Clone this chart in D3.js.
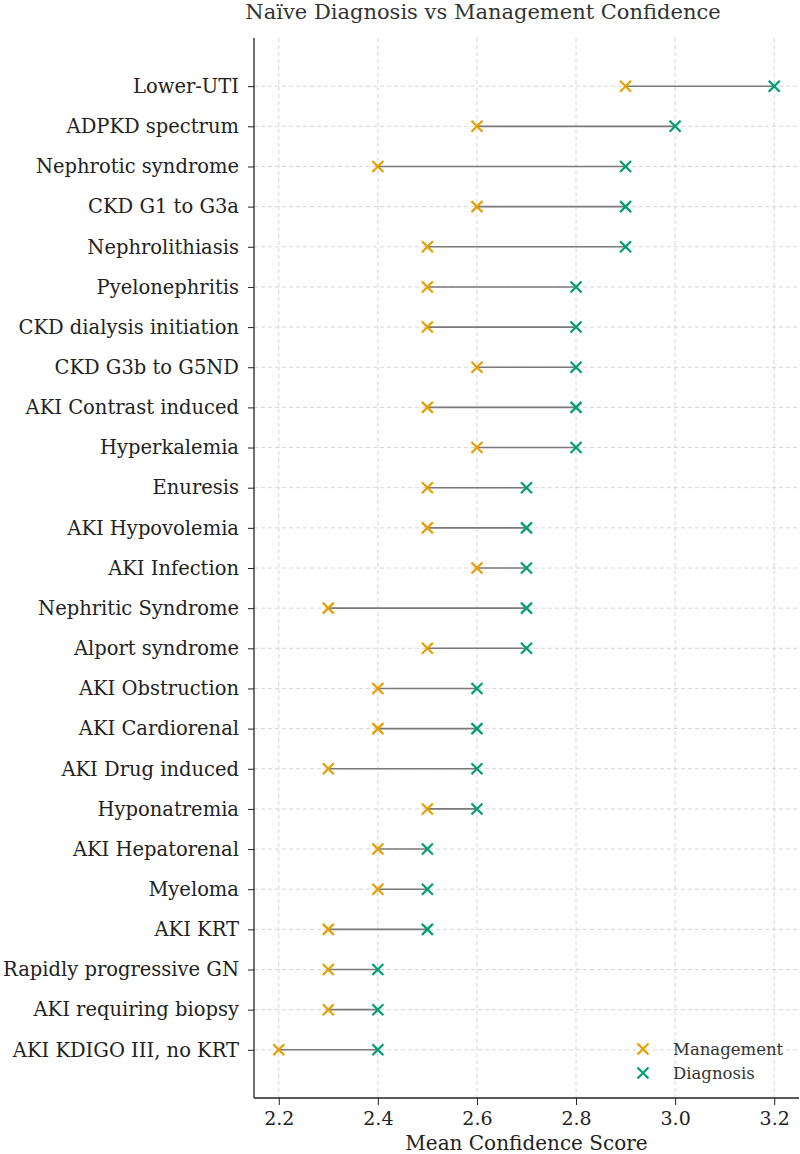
<!DOCTYPE html>
<html>
<head>
<meta charset="utf-8">
<script src="https://cdn.jsdelivr.net/npm/d3@7"></script>
<style>
  body { margin: 0; background: #fff; }
  text { font-family: "DejaVu Serif", serif; }
</style>
</head>
<body>
<div id="chart"></div>
<script>
const conditions = [
  "Lower-UTI", "ADPKD spectrum", "Nephrotic syndrome", "CKD G1 to G3a", "Nephrolithiasis",
  "Pyelonephritis", "CKD dialysis initiation", "CKD G3b to G5ND", "AKI Contrast induced", "Hyperkalemia",
  "Enuresis", "AKI Hypovolemia", "AKI Infection", "Nephritic Syndrome", "Alport syndrome",
  "AKI Obstruction", "AKI Cardiorenal", "AKI Drug induced", "Hyponatremia", "AKI Hepatorenal",
  "Myeloma", "AKI KRT", "Rapidly progressive GN", "AKI requiring biopsy", "AKI KDIGO III, no KRT"
];
const management = [2.9, 2.6, 2.4, 2.6, 2.5, 2.5, 2.5, 2.6, 2.5, 2.6, 2.5, 2.5, 2.6, 2.3, 2.5,
  2.4, 2.4, 2.3, 2.5, 2.4, 2.4, 2.3, 2.3, 2.3, 2.2];
const diagnosis = [3.2, 3.0, 2.9, 2.9, 2.9, 2.8, 2.8, 2.8, 2.8, 2.8, 2.7, 2.7, 2.7, 2.7, 2.7,
  2.6, 2.6, 2.6, 2.6, 2.5, 2.5, 2.5, 2.4, 2.4, 2.4];
const xTicks = [2.2, 2.4, 2.6, 2.8, 3.0, 3.2];

const W = 800, H = 1154;
const pLeft = 254, pRight = 799, pTop = 38, pBottom = 1098;
const orange = "#E69F00", green = "#009E73";

const svg = d3.select("#chart").append("svg")
  .attr("width", W)
  .attr("height", H);

const x = d3.scaleLinear().domain([2.15, 3.25]).range([pLeft, pRight]);
const n = conditions.length;
const y = d3.scaleLinear().domain([-1.2, n - 1 + 1.2]).range([pTop, pBottom]);

// grid
svg.append("g").selectAll("line").data(xTicks).join("line")
  .attr("x1", d => x(d)).attr("x2", d => x(d))
  .attr("y1", pTop).attr("y2", pBottom)
  .attr("stroke", "#cccccc").attr("stroke-width", 0.8)
  .style("stroke-dasharray", "4, 3");

svg.append("g").selectAll("line").data(conditions).join("line")
  .attr("x1", pLeft).attr("x2", pRight)
  .attr("y1", (d, i) => y(i)).attr("y2", (d, i) => y(i))
  .attr("stroke", "#cccccc").attr("stroke-width", 0.8)
  .style("stroke-dasharray", "4, 3");

// axes
const xAxis = svg.append("g")
  .attr("transform", "translate(0," + pBottom + ")")
  .call(d3.axisBottom(x).tickValues(xTicks).tickFormat(d3.format(".1f")).tickSize(7).tickPadding(7));
xAxis.select(".domain").attr("stroke", "#222").attr("stroke-width", 1.3)
  .attr("d", "M" + pLeft + ",0H" + pRight);
xAxis.selectAll(".tick line").attr("stroke", "#222");
xAxis.selectAll("text").style("font-size", "19px").attr("fill", "#222")
  .style("font-family", "DejaVu Serif");

const yAxis = svg.append("g")
  .attr("transform", "translate(" + pLeft + ",0)")
  .call(d3.axisLeft(y).tickValues(d3.range(n)).tickFormat(i => conditions[i]).tickSize(6).tickPadding(9));
yAxis.select(".domain").attr("stroke", "#222").attr("stroke-width", 1.3)
  .attr("d", "M0," + pTop + "V" + pBottom);
yAxis.selectAll(".tick line").attr("stroke", "#222");
yAxis.selectAll("text").style("font-size", "19.5px").attr("fill", "#222")
  .style("font-family", "DejaVu Serif");

// connecting lines
svg.append("g").selectAll("line").data(conditions).join("line")
  .attr("x1", (d, i) => x(management[i]))
  .attr("x2", (d, i) => x(diagnosis[i]))
  .attr("y1", (d, i) => y(i)).attr("y2", (d, i) => y(i))
  .attr("stroke", "#7a7a7a").attr("stroke-width", 1.6);

const cross = (g, cx, cy, color) => {
  const s = 5.5;
  g.append("path")
    .attr("d", "M" + (cx - s) + "," + (cy - s) + "L" + (cx + s) + "," + (cy + s) +
      "M" + (cx - s) + "," + (cy + s) + "L" + (cx + s) + "," + (cy - s))
    .attr("stroke", color).attr("stroke-width", 2.2).attr("fill", "none");
};

const marks = svg.append("g");
conditions.forEach((c, i) => {
  cross(marks, x(management[i]), y(i), orange);
  cross(marks, x(diagnosis[i]), y(i), green);
});

// legend
const legend = svg.append("g");
[["Management", orange], ["Diagnosis", green]].forEach((d, i) => {
  const ly = 1049 + i * 24;
  cross(legend, 643, ly, d[1]);
  legend.append("text")
    .attr("x", 673).attr("y", ly)
    .attr("dy", "0.35em")
    .attr("fill", "#333")
    .style("font-size", "16.5px")
    .text(d[0]);
});

// title and axis label
svg.append("text")
  .attr("x", 483).attr("y", 19)
  .attr("text-anchor", "middle")
  .attr("fill", "#333")
  .style("font-size", "21px")
  .text("Naïve Diagnosis vs Management Confidence");

svg.append("text")
  .attr("x", (pLeft + pRight) / 2).attr("y", 1150)
  .attr("text-anchor", "middle")
  .attr("fill", "#222")
  .style("font-size", "20px")
  .text("Mean Confidence Score");
</script>
</body>
</html>
